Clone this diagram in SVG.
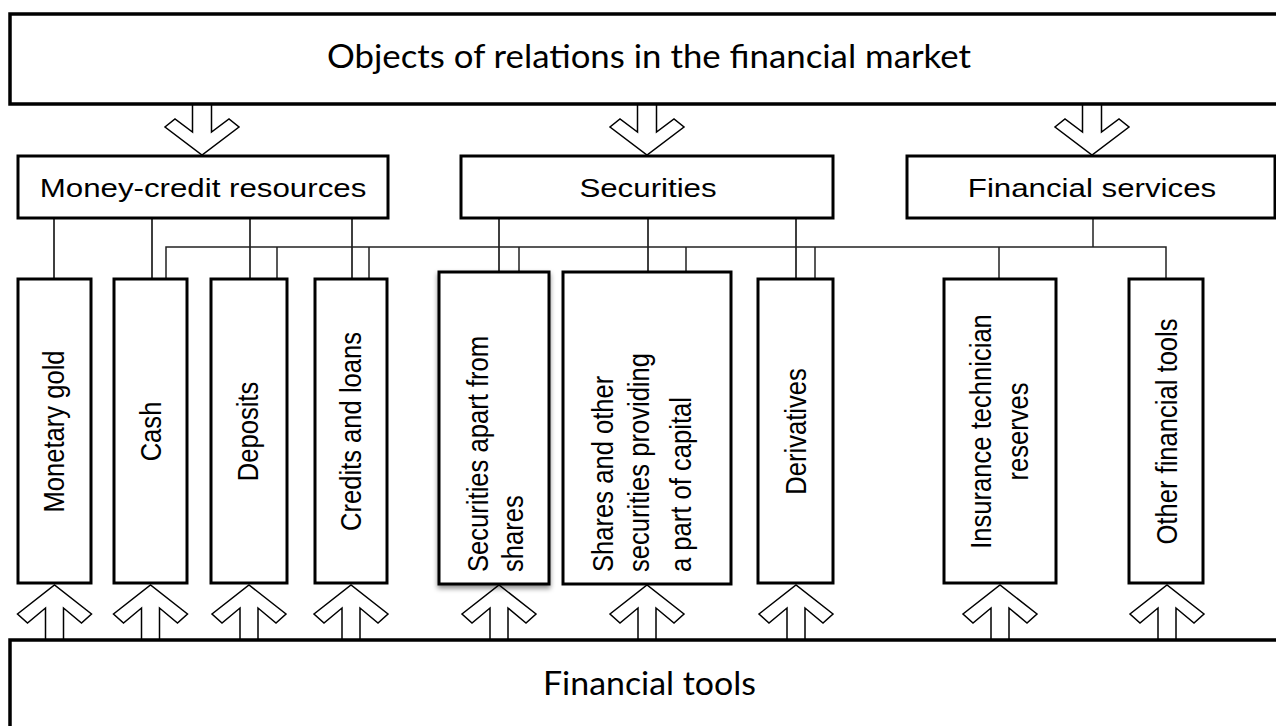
<svg xmlns="http://www.w3.org/2000/svg" width="1276" height="726" viewBox="0 0 1276 726">
<style>
.box{fill:#fff;stroke:#000;stroke-width:3}
.big{fill:#fff;stroke:#000;stroke-width:3.5}
.ln{fill:none;stroke:#000;stroke-width:1.5}
.bus{fill:none;stroke:#222;stroke-width:1.5}
.arr{fill:#fff;stroke:#000;stroke-width:1.5;stroke-linejoin:miter}
.ttl{font-family:Lato,"Open Sans",sans-serif;font-size:32px;fill:#000}
.lbl{font-family:"Liberation Sans",Arial,sans-serif;font-size:26.5px;fill:#000}
.vl{font-family:"Liberation Sans",Arial,sans-serif;font-size:25.6px;fill:#000}
</style>
<defs>
<filter id="sh" x="-20%" y="-10%" width="140%" height="120%">
<feDropShadow dx="0" dy="3" stdDeviation="2.5" flood-color="#000" flood-opacity="0.45"/>
</filter>
</defs>
<rect width="1276" height="726" fill="#fff"/>

<g id="connectors">
<!-- down arrows -->
<path class="arr" d="M192.5,104 V132 L175,119 L165,127 L202,155 L239,127 L229,119 L211.5,132 V104"/>
<path class="arr" d="M637.5,104 V132 L620,119 L610,127 L647,155 L684,127 L674,119 L656.5,132 V104"/>
<path class="arr" d="M1082.5,104 V132 L1065,119 L1055,127 L1092,155 L1129,127 L1119,119 L1101.5,132 V104"/>
<!-- money-credit links -->
<path class="ln" d="M54,218 V279 M152,218 V279 M250,218 V279 M352,218 V279"/>
<!-- securities links -->
<path class="ln" d="M499,218 V272 M648,218 V272 M796,218 V279"/>
<!-- financial services bus -->
<path class="bus" d="M1093,218 V247 M166,279 V247 H1166 V279 M277,247 V279 M369,247 V279 M519,247 V272 M686,247 V272 M815,247 V279 M999,247 V279"/>
<!-- up arrows -->
<path class="arr" d="M45.5,640 V608 L27.5,623 L17.5,614 L54.5,585 L91.5,614 L81.5,623 L63.5,608 V640"/>
<path class="arr" d="M141.5,640 V608 L123.5,623 L113.5,614 L150.5,585 L187.5,614 L177.5,623 L159.5,608 V640"/>
<path class="arr" d="M240,640 V608 L222,623 L212,614 L249,585 L286,614 L276,623 L258,608 V640"/>
<path class="arr" d="M342,640 V608 L324,623 L314,614 L351,585 L388,614 L378,623 L360,608 V640"/>
<path class="arr" d="M490,640 V608 L472,623 L462,614 L499,585 L536,614 L526,623 L508,608 V640"/>
<path class="arr" d="M638,640 V608 L620,623 L610,614 L647,585 L684,614 L674,623 L656,608 V640"/>
<path class="arr" d="M787,640 V608 L769,623 L759,614 L796,585 L833,614 L823,623 L805,608 V640"/>
<path class="arr" d="M991,640 V608 L973,623 L963,614 L1000,585 L1037,614 L1027,623 L1009,608 V640"/>
<path class="arr" d="M1158,640 V608 L1140,623 L1130,614 L1167,585 L1204,614 L1194,623 L1176,608 V640"/>
</g>

<g id="top">
<rect class="big" x="10" y="14" width="1290" height="90"/>
<text class="ttl" x="649" y="68" text-anchor="middle" textLength="644" lengthAdjust="spacingAndGlyphs">Objects of relations in the financial market</text>
</g>

<g id="money-credit">
<rect class="box" x="18" y="156" width="370" height="62"/>
<text class="lbl" transform="translate(203,197) scale(1.18,1)" text-anchor="middle">Money-credit resources</text>
</g>
<g id="securities">
<rect class="box" x="461" y="156" width="372" height="62"/>
<text class="lbl" transform="translate(648,197) scale(1.18,1)" text-anchor="middle">Securities</text>
</g>
<g id="financial-services">
<rect class="box" x="907" y="156" width="368" height="62"/>
<text class="lbl" transform="translate(1092,197) scale(1.18,1)" text-anchor="middle">Financial services</text>
</g>

<g id="monetary-gold">
<rect class="box" x="18" y="279" width="73" height="304"/>
<text class="vl" transform="translate(64,431.5) rotate(-90) scale(1,1.18)" text-anchor="middle">Monetary gold</text>
</g>
<g id="cash">
<rect class="box" x="114" y="279" width="73" height="304"/>
<text class="vl" transform="translate(161,431.5) rotate(-90) scale(1,1.18)" text-anchor="middle">Cash</text>
</g>
<g id="deposits">
<rect class="box" x="211" y="279" width="76" height="304"/>
<text class="vl" transform="translate(258,431.5) rotate(-90) scale(1,1.18)" text-anchor="middle">Deposits</text>
</g>
<g id="credits">
<rect class="box" x="315" y="279" width="72" height="304"/>
<text class="vl" transform="translate(361,431.5) rotate(-90) scale(1,1.18)" text-anchor="middle">Credits and loans</text>
</g>
<g id="securities-apart">
<rect class="box" x="439" y="272" width="110" height="312" filter="url(#sh)"/>
<text class="vl" transform="translate(488,572) rotate(-90) scale(1,1.18)">Securities apart from</text>
<text class="vl" transform="translate(523,572) rotate(-90) scale(1,1.18)">shares</text>
</g>
<g id="shares">
<rect class="box" x="563" y="272" width="168" height="312"/>
<text class="vl" transform="translate(612.5,572) rotate(-90) scale(1,1.18)">Shares and other</text>
<text class="vl" transform="translate(649,572) rotate(-90) scale(1,1.18)">securities providing</text>
<text class="vl" transform="translate(691,572) rotate(-90) scale(1,1.18)">a part of capital</text>
</g>
<g id="derivatives">
<rect class="box" x="758" y="279" width="75" height="304"/>
<text class="vl" transform="translate(806,431.5) rotate(-90) scale(1,1.18)" text-anchor="middle">Derivatives</text>
</g>
<g id="insurance">
<rect class="box" x="944" y="279" width="112" height="304"/>
<text class="vl" transform="translate(991,431.5) rotate(-90) scale(1,1.18)" text-anchor="middle">Insurance technician</text>
<text class="vl" transform="translate(1028,431.5) rotate(-90) scale(1,1.18)" text-anchor="middle">reserves</text>
</g>
<g id="other-tools">
<rect class="box" x="1129" y="279" width="74" height="304"/>
<text class="vl" transform="translate(1177,431.5) rotate(-90) scale(1,1.18)" text-anchor="middle">Other financial tools</text>
</g>

<g id="bottom">
<rect class="big" x="10" y="640" width="1290" height="120"/>
<text class="ttl" x="649.5" y="695" text-anchor="middle" textLength="213" lengthAdjust="spacingAndGlyphs">Financial tools</text>
</g>
</svg>
